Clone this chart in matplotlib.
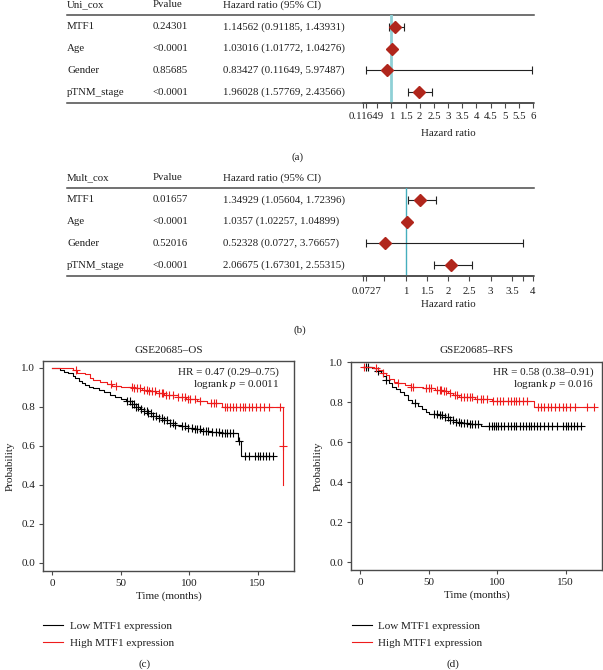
import matplotlib.pyplot as plt
import numpy as np

plt.rcParams['font.family'] = ['Liberation Serif', 'DejaVu Serif']
plt.rcParams['mathtext.fontset'] = 'custom'
plt.rcParams['mathtext.rm'] = 'Liberation Serif'
plt.rcParams['mathtext.it'] = 'Liberation Serif:italic'

W, H = 603, 670
TXT = '#1e1e1e'
EDGE = '#4a4a4a'
FS = 7.8

# ---- forest plot data ----
variables = ['MTF1', 'Age', 'Gender', 'pTNM_stage']

uni_p = ['0.24301', '<0.0001', '0.85685', '<0.0001']
uni_hr = [1.14562, 1.03016, 0.83427, 1.96028]
uni_lo = [0.91185, 1.01772, 0.11649, 1.57769]
uni_hi = [1.43931, 1.04276, 5.97487, 2.43566]
uni_ticks = [0, 0.11649, 0.5, 1, 1.5, 2, 2.5, 3, 3.5, 4, 4.5, 5, 5.5, 6]
uni_ticklabels = ['', '0.11649', '', '1', '1.5', '2', '2.5', '3', '3.5', '4',
                  '4.5', '5', '5.5', '6']

mult_p = ['0.01657', '<0.0001', '0.52016', '<0.0001']
mult_hr = [1.34929, 1.0357, 0.52328, 2.06675]
mult_lo = [1.05604, 1.02257, 0.0727, 1.67301]
mult_hi = [1.72396, 1.04899, 3.76657, 2.55315]
mult_ticks = [0, 0.0727, 0.5, 1, 1.5, 2, 2.5, 3, 3.5, 3.76657, 4]
mult_ticklabels = ['', '0.0727', '', '1', '1.5', '2', '2.5', '3', '3.5', '', '4']

# ---- KM data: step times and survival after each step ----
os_low_t = [0, 6, 9, 12, 15, 17, 20, 22, 24, 27, 30, 34, 38, 42, 46, 50, 54, 58, 61,
            64, 67, 70, 74, 78, 82, 86, 90, 94, 99, 104, 109, 116, 124, 136, 138, 161]
os_low_s = [1.0, 0.99, 0.98, 0.97, 0.955, 0.945, 0.93, 0.92, 0.91, 0.90, 0.893, 0.885,
            0.875, 0.862, 0.85, 0.84, 0.828, 0.815, 0.80, 0.79, 0.778, 0.765, 0.752,
            0.74, 0.73, 0.718, 0.708, 0.70, 0.692, 0.684, 0.677, 0.672, 0.665, 0.622,
            0.545, 0.545]
os_low_cens = [55, 57, 58, 60, 61, 63, 65, 67, 69, 70, 72, 74, 76, 78, 80, 82, 84, 86,
               88, 90, 95, 97, 99, 102, 104, 106, 108, 110, 112, 114, 117, 120, 122,
               124, 126, 128, 130, 132, 136.5, 141, 144, 148, 150, 152, 154, 156, 158, 161]

os_high_t = [0, 15, 18, 24, 28, 30, 35, 40, 44, 50, 60, 66, 70, 76, 82, 92, 98, 106,
             113, 124, 168.5, 168.9]
os_high_s = [1.0, 0.99, 0.975, 0.965, 0.945, 0.937, 0.928, 0.915, 0.905, 0.90, 0.893,
             0.885, 0.878, 0.868, 0.858, 0.848, 0.838, 0.828, 0.818, 0.80, 0.60, 0.40]
os_high_cens = [17.5, 43, 47, 58, 60, 62, 64, 67, 69, 71, 73, 75, 78, 80, 81, 83, 85, 88,
                92, 95, 97, 99, 101, 104, 108, 116, 118, 120, 126, 128, 130, 132, 134,
                137, 139, 141, 144, 146, 149, 152, 155, 158, 166, 168.7]

rfs_low_t = [2, 9, 12, 15, 17, 19, 21, 23, 26, 29, 32, 35, 38, 42, 45, 48, 50, 58, 62,
             66, 70, 74, 80, 88, 161]
rfs_low_s = [0.978, 0.97, 0.957, 0.945, 0.93, 0.912, 0.895, 0.878, 0.868, 0.853, 0.835,
             0.812, 0.795, 0.78, 0.765, 0.75, 0.742, 0.735, 0.725, 0.712, 0.703, 0.695,
             0.69, 0.683, 0.683]
rfs_low_cens = [4, 6, 13, 19, 40, 54, 56, 58, 60, 62, 64, 66, 68, 70, 72, 74, 76, 78, 80,
                82, 84, 86, 94, 96, 98, 99, 101, 103, 105, 108, 110, 112, 114, 117, 119,
                121, 123, 125, 127, 129, 131, 134, 137, 140, 144, 148, 150, 152, 154,
                156, 158, 161]

rfs_high_t = [2, 10, 13, 17, 19, 21, 25, 28, 33, 37, 46, 55, 60, 64, 68, 72, 84, 96,
              127, 171]
rfs_high_s = [0.978, 0.97, 0.962, 0.948, 0.937, 0.915, 0.903, 0.895, 0.885, 0.878, 0.87,
              0.862, 0.855, 0.845, 0.835, 0.825, 0.818, 0.805, 0.778, 0.778]
rfs_high_cens = [3, 12, 17, 28, 37, 39, 48, 50, 52, 56, 58, 59, 61, 63, 66, 69, 71, 74,
                 76, 78, 80, 82, 85, 88, 90, 93, 97, 100, 102, 104, 108, 110, 112, 114,
                 116, 119, 122, 130, 132, 134, 137, 139, 142, 145, 148, 150, 153, 157,
                 166, 170.5]


def box(l, t, r, b):
    return [l / W, 1 - b / H, (r - l) / W, (b - t) / H]


fig = plt.figure(figsize=(W / 100, H / 100), dpi=100)


def forest(top, bottom, name, pvals, hr, lo, hi, ticks, ticklabels, xmax,
           vcol, vlw, tpad, lpad):
    rows = np.arange(len(variables))
    tab = fig.add_axes(box(67, top, 534, bottom))
    tab.set_xlim(0, 1)
    tab.set_ylim(3.5, -0.55)
    tab.axis('off')
    tab.axhline(-0.55, color=EDGE, lw=1.1, clip_on=False)
    tab.axhline(3.5, color=EDGE, lw=1.1, clip_on=False)
    for x, s in zip([0, 0.184, 0.334], [name, 'Pvalue', 'Hazard ratio (95% CI)']):
        tab.text(x, -1.02, s, fontsize=FS, color=TXT, va='center')
    for i in rows:
        tab.text(0, i, variables[i], fontsize=FS, color=TXT, va='center')
        tab.text(0.184, i, pvals[i], fontsize=FS, color=TXT, va='center')
        tab.text(0.334, i, '{} ({}, {})'.format(hr[i], lo[i], hi[i]),
                 fontsize=FS, color=TXT, va='center')

    ax = fig.add_axes(box(363, top, 533, bottom))
    ax.patch.set_alpha(0)
    ax.set_xlim(0, xmax)
    ax.set_ylim(3.5, -0.55)
    for s in ['top', 'right', 'left']:
        ax.spines[s].set_visible(False)
    ax.spines['bottom'].set_color(EDGE)
    ax.spines['bottom'].set_linewidth(1.1)
    ax.set_yticks([])
    ax.set_xticks(ticks)
    ax.set_xticklabels(ticklabels)
    ax.tick_params(axis='x', length=3.5, width=0.8, color=EDGE, labelsize=FS,
                   labelcolor=TXT, pad=tpad)
    ax.axvline(1, color=vcol, lw=vlw, zorder=1)
    hr = np.array(hr)
    xerr = [hr - np.array(lo), np.array(hi) - hr]
    ax.errorbar(hr, rows, xerr=xerr, fmt='D', color='#b0261c', markersize=6.5,
                ecolor='#222222', elinewidth=0.8, capsize=2.8, capthick=0.8,
                clip_on=False, zorder=3)
    ax.set_xlabel('Hazard ratio', fontsize=FS, color=TXT, labelpad=lpad)


forest(15, 103, 'Uni_cox', uni_p, uni_hr, uni_lo, uni_hi, uni_ticks,
       uni_ticklabels, 6, '#8fd0d6', 2.0, 3, 6)
forest(188, 276, 'Mult_cox', mult_p, mult_hr, mult_lo, mult_hi, mult_ticks,
       mult_ticklabels, 4, '#45aebd', 1.0, 4.5, 3)
fig.text(298 / W, 1 - 157 / H, '(a)', fontsize=FS, color=TXT, ha='center', va='center')
fig.text(300 / W, 1 - 330 / H, '(b)', fontsize=FS, color=TXT, ha='center', va='center')


def km(rect, ylim, title, curves, hr_txt, p_txt, tx, sub, sub_x, leg_x):
    ax = fig.add_axes(rect)
    lines = []
    for t, s, cens, col, lab in curves:
        ln, = ax.step(t, s, where='post', color=col, lw=0.8, label=lab)
        lines.append(ln)
        idx = np.searchsorted(t, cens, side='right') - 1
        ax.plot(cens, np.array(s)[idx], '+', color=col, markersize=5.8, mew=0.8)
    ax.set_xlim(-6.8, 176.8)
    ax.set_ylim(*ylim)
    ax.set_xticks([0, 50, 100, 150])
    ax.set_yticks([0, 0.2, 0.4, 0.6, 0.8, 1.0])
    ax.set_yticklabels(['0.0', '0.2', '0.4', '0.6', '0.8', '1.0'])
    for sp in ax.spines.values():
        sp.set_color(EDGE)
        sp.set_linewidth(1.0)
    ax.tick_params(length=3, width=0.8, color=EDGE, labelsize=8, labelcolor=TXT, pad=2.5)
    ax.set_title(title, fontsize=8, color=TXT, pad=6)
    ax.set_xlabel('Time (months)', fontsize=8, color=TXT, labelpad=3)
    ax.set_ylabel('Probability', fontsize=8, color=TXT, labelpad=5)
    ax.text(tx, 0.949, hr_txt, transform=ax.transAxes, fontsize=8, color=TXT,
            ha='right', va='center')
    ax.text(tx, 0.890, p_txt, transform=ax.transAxes, fontsize=8, color=TXT,
            ha='right', va='center')
    ax.legend(handles=lines, loc='upper left', bbox_to_anchor=(leg_x / W, 1 - 621.5 / H),
              bbox_transform=fig.transFigure, frameon=False, borderpad=0,
              borderaxespad=0, handlelength=1.8, handletextpad=0.6,
              labelspacing=0.62, fontsize=8, labelcolor=TXT)
    fig.text(sub_x / W, 1 - 664 / H, sub, fontsize=8, color=TXT, ha='center', va='center')


km(box(42.7, 361, 294.3, 571), (-0.043, 1.034), 'GSE20685\u2013OS',
   [(os_low_t, os_low_s, os_low_cens, 'black', 'Low MTF1 expression'),
    (os_high_t, os_high_s, os_high_cens, '#ee1c1c', 'High MTF1 expression')],
   'HR = 0.47 (0.29\u20130.75)', 'logrank $p$ = 0.0011', 0.939, '(c)', 145, 43)
km(box(350.7, 361.7, 602.3, 570), (-0.038, 1.003), 'GSE20685\u2013RFS',
   [(rfs_low_t, rfs_low_s, rfs_low_cens, 'black', 'Low MTF1 expression'),
    (rfs_high_t, rfs_high_s, rfs_high_cens, '#ee1c1c', 'High MTF1 expression')],
   'HR = 0.58 (0.38\u20130.91)', 'logrank $p$ = 0.016', 0.967, '(d)', 453, 351.5)

fig.savefig('out.png', dpi=100)
